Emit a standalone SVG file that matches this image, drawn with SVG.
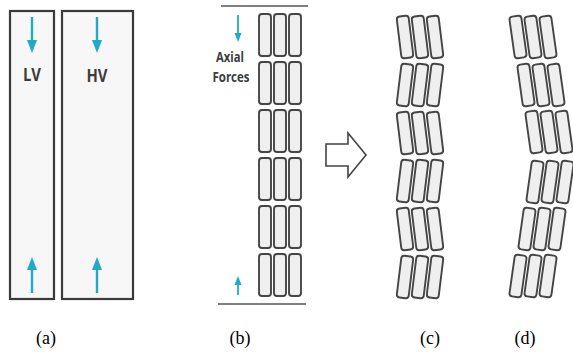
<svg xmlns="http://www.w3.org/2000/svg" width="573" height="352" viewBox="0 0 573 352">
<style>
.panel{fill:#f7f7f7;stroke:#3a3a3a;stroke-width:2.2}
.bar{fill:#efefef;stroke:#454545;stroke-width:1.9}
.shaft{stroke:#22aac4;stroke-width:2.4;fill:none}
.shaft-s{stroke:#22aac4;stroke-width:1.8;fill:none}
.head{fill:#22aac4}
.lbl{font-family:"Open Sans","DejaVu Sans",sans-serif;font-weight:bold;fill:#3c3c3c;text-anchor:middle}
.cap{font-family:"Liberation Serif","Times New Roman",serif;font-size:18px;fill:#000;text-anchor:middle}
.rule{stroke:#555;stroke-width:1.3}
</style>
<defs>
<rect id="bar" class="bar" x="-6" y="-21" width="12" height="42" rx="3"/>
</defs>

<g id="panel-a">
<g id="LV">
<rect class="panel" x="10" y="11" width="44" height="288"/>
<text class="lbl" x="32" y="81" font-size="18" textLength="18" lengthAdjust="spacingAndGlyphs">LV</text>
</g>
<g id="HV">
<rect class="panel" x="62" y="11" width="71" height="288"/>
<text class="lbl" x="97" y="82" font-size="18" textLength="21" lengthAdjust="spacingAndGlyphs">HV</text>
</g>
</g>

<g id="panel-b">
<line class="rule" x1="221" y1="6" x2="308" y2="6"/>
<line class="rule" x1="218" y1="304" x2="306" y2="304"/>
<text class="lbl" x="230" y="62" font-size="14" textLength="28" lengthAdjust="spacingAndGlyphs">Axial</text>
<text class="lbl" x="231" y="82" font-size="14" textLength="37" lengthAdjust="spacingAndGlyphs">Forces</text>
<g id="stack-b">
<use href="#bar" transform="translate(265,35)"/><use href="#bar" transform="translate(280,35)"/><use href="#bar" transform="translate(295,35)"/>
<use href="#bar" transform="translate(265,83)"/><use href="#bar" transform="translate(280,83)"/><use href="#bar" transform="translate(295,83)"/>
<use href="#bar" transform="translate(265,131)"/><use href="#bar" transform="translate(280,131)"/><use href="#bar" transform="translate(295,131)"/>
<use href="#bar" transform="translate(265,179)"/><use href="#bar" transform="translate(280,179)"/><use href="#bar" transform="translate(295,179)"/>
<use href="#bar" transform="translate(265,227)"/><use href="#bar" transform="translate(280,227)"/><use href="#bar" transform="translate(295,227)"/>
<use href="#bar" transform="translate(265,275)"/><use href="#bar" transform="translate(280,275)"/><use href="#bar" transform="translate(295,275)"/>
</g>
</g>

<g id="arrows">
<line class="shaft" x1="32" y1="17" x2="32" y2="42"/><polygon class="head" points="27,40 37,40 32,53"/>
<line class="shaft" x1="97" y1="17" x2="97" y2="42"/><polygon class="head" points="92,40 102,40 97,53"/>
<line class="shaft" x1="32" y1="293" x2="32" y2="268"/><polygon class="head" points="27,270 37,270 32,257"/>
<line class="shaft" x1="97" y1="293" x2="97" y2="268"/><polygon class="head" points="92,270 102,270 97,257"/>
<line class="shaft-s" x1="238" y1="15" x2="238" y2="34"/><polygon class="head" points="234.5,33 241.5,33 238,42"/>
<line class="shaft-s" x1="238" y1="295" x2="238" y2="284"/><polygon class="head" points="234.5,285 241.5,285 238,276"/>
<polygon id="transform-arrow" points="326,144 348,144 348,133 366,155 348,177 348,166 326,166" fill="#fff" stroke="#444" stroke-width="1.6" stroke-linejoin="miter"/>
</g>

<g id="panel-c">
<use href="#bar" transform="translate(405,37) rotate(-7)"/><use href="#bar" transform="translate(420,37) rotate(-7)"/><use href="#bar" transform="translate(435,37) rotate(-7)"/>
<use href="#bar" transform="translate(405,85) rotate(7)"/><use href="#bar" transform="translate(420,85) rotate(7)"/><use href="#bar" transform="translate(435,85) rotate(7)"/>
<use href="#bar" transform="translate(405,133) rotate(-7)"/><use href="#bar" transform="translate(420,133) rotate(-7)"/><use href="#bar" transform="translate(435,133) rotate(-7)"/>
<use href="#bar" transform="translate(405,181) rotate(7)"/><use href="#bar" transform="translate(420,181) rotate(7)"/><use href="#bar" transform="translate(435,181) rotate(7)"/>
<use href="#bar" transform="translate(405,229) rotate(-7)"/><use href="#bar" transform="translate(420,229) rotate(-7)"/><use href="#bar" transform="translate(435,229) rotate(-7)"/>
<use href="#bar" transform="translate(405,277) rotate(7)"/><use href="#bar" transform="translate(420,277) rotate(7)"/><use href="#bar" transform="translate(435,277) rotate(7)"/>
</g>

<g id="panel-d">
<use href="#bar" transform="translate(518,37) rotate(-8)"/><use href="#bar" transform="translate(533,37) rotate(-8)"/><use href="#bar" transform="translate(548,37) rotate(-8)"/>
<use href="#bar" transform="translate(526,85) rotate(-8)"/><use href="#bar" transform="translate(541,85) rotate(-8)"/><use href="#bar" transform="translate(556,85) rotate(-8)"/>
<use href="#bar" transform="translate(534,132) rotate(-8)"/><use href="#bar" transform="translate(549,132) rotate(-8)"/><use href="#bar" transform="translate(564,132) rotate(-8)"/>
<use href="#bar" transform="translate(535,182) rotate(8)"/><use href="#bar" transform="translate(550,182) rotate(8)"/><use href="#bar" transform="translate(565,182) rotate(8)"/>
<use href="#bar" transform="translate(527,229) rotate(8)"/><use href="#bar" transform="translate(542,229) rotate(8)"/><use href="#bar" transform="translate(557,229) rotate(8)"/>
<use href="#bar" transform="translate(518,276) rotate(8)"/><use href="#bar" transform="translate(533,276) rotate(8)"/><use href="#bar" transform="translate(548,276) rotate(8)"/>
</g>

<g id="captions">
<text class="cap" x="46" y="344">(a)</text>
<text class="cap" x="240" y="344">(b)</text>
<text class="cap" x="430" y="344">(c)</text>
<text class="cap" x="525" y="344">(d)</text>
</g>
</svg>
